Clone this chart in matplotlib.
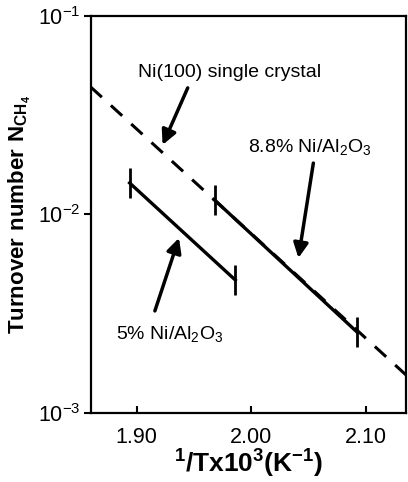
import numpy as np
import matplotlib
matplotlib.use('Agg')
from matplotlib import pyplot as plt

plt.rcParams['font.family'] = ['Liberation Sans', 'DejaVu Sans']
plt.rcParams['mathtext.fontset'] = 'custom'
plt.rcParams['mathtext.rm'] = 'Liberation Sans'
plt.rcParams['mathtext.bf'] = 'Liberation Sans:bold'

# Ni(100) single crystal (dashed line, from edge to edge)
x_crystal = [1.86, 2.135]
y_crystal = [0.0439, 0.00155]

# 8.8% Ni/Al2O3
x_88 = [1.968, 2.092]
y_88 = [0.01183, 0.00256]

# 5% Ni/Al2O3
x_5 = [1.894, 1.986]
y_5 = [0.01442, 0.00468]

xticks = [1.90, 2.00, 2.10]
xticklabels = ['1.90', '2.00', '2.10']

fig = plt.figure(figsize=(4.08, 4.82), dpi=100)
ax = fig.add_axes([0.222, 0.143, 0.774, 0.824])

ax.plot(x_crystal, y_crystal, 'k--', lw=2.2, dashes=(5, 4))
ax.plot(x_88, y_88, 'k-', lw=2.4, marker='|', ms=22, mew=2)
ax.plot(x_5, y_5, 'k-', lw=2.4, marker='|', ms=22, mew=2)

ax.set_yscale('log')
ax.set_xlim(1.86, 2.135)
ax.set_ylim(1e-3, 1e-1)
ax.set_xticks(xticks)
ax.set_xticklabels(xticklabels)
ax.set_yticks([1e-3, 1e-2, 1e-1])
ax.minorticks_off()
ax.tick_params(axis='x', direction='in', length=5, width=1.5, labelsize=15.5, pad=10)
ax.tick_params(axis='y', direction='out', length=5, width=1.5, labelsize=15.5, pad=2)
for s in ax.spines.values():
    s.set_linewidth(1.6)

ax.set_xlabel(r'$\mathbf{^1/Tx10^3(K^{-1})}$', fontsize=19, labelpad=0)
ax.set_ylabel(r'$\mathbf{Turnover\ number\ N_{CH_4}}$', fontsize=16, labelpad=4)

arrow = dict(arrowstyle='-|>', lw=2.5, color='k', mutation_scale=22, shrinkA=0, shrinkB=0)
ax.text(1.981, 0.0516, 'Ni(100) single crystal', fontsize=14, ha='center', va='center')
ax.annotate('', xy=(1.9227, 0.0224), xytext=(1.9446, 0.0434), arrowprops=arrow)
ax.text(2.051, 0.0216, r'8.8% Ni/Al$_2$O$_3$', fontsize=14, ha='center', va='center')
ax.annotate('', xy=(2.041, 0.00604), xytext=(2.054, 0.01815), arrowprops=arrow)
ax.text(1.929, 0.00247, r'5% Ni/Al$_2$O$_3$', fontsize=14, ha='center', va='center')
ax.annotate('', xy=(1.937, 0.00762), xytext=(1.916, 0.00327), arrowprops=arrow)

fig.savefig('out.png', dpi=100)
